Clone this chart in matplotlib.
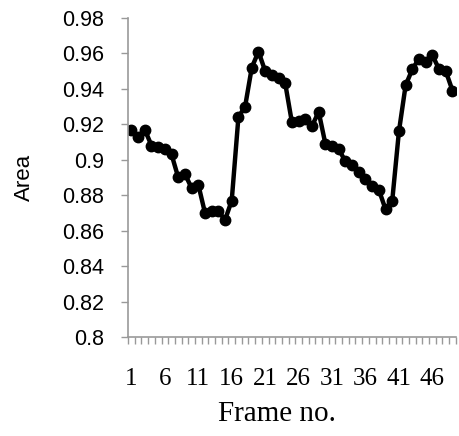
import matplotlib
matplotlib.use("Agg")
import matplotlib.pyplot as plt
import numpy as np

frames = list(range(1, 50))
area = [0.917, 0.913, 0.917, 0.908, 0.907, 0.906, 0.903, 0.890, 0.892, 0.884,
        0.886, 0.870, 0.871, 0.871, 0.866, 0.877, 0.924, 0.930, 0.952, 0.961,
        0.950, 0.948, 0.946, 0.943, 0.921, 0.922, 0.923, 0.919, 0.927, 0.909,
        0.908, 0.906, 0.899, 0.897, 0.893, 0.889, 0.885, 0.883, 0.872, 0.877,
        0.916, 0.942, 0.951, 0.957, 0.955, 0.959, 0.951, 0.950, 0.939]
xtick_labels = [1, 6, 11, 16, 21, 26, 31, 36, 41, 46]
yticks = [0.8, 0.82, 0.84, 0.86, 0.88, 0.9, 0.92, 0.94, 0.96, 0.98]
ytick_labels = ['0.8', '0.82', '0.84', '0.86', '0.88', '0.9', '0.92', '0.94', '0.96', '0.98']

fig = plt.figure(figsize=(4.59, 4.36), dpi=100)
ax = fig.add_axes([0.279, 0.227, 0.714, 0.732])

ax.plot(frames, area, color='black', linewidth=3.2, marker='o', markersize=7.5)

ax.set_xlim(0.5, len(frames) + 0.5)
ax.set_ylim(0.8, 0.98)

# labels on every 5th frame, tick marks between every category
ax.set_xticks(xtick_labels)
ax.set_xticklabels([str(v) for v in xtick_labels], fontfamily='Liberation Serif', fontsize=18)
ax.set_xticks(np.arange(0.5, len(frames) + 1, 1), minor=True)
ax.tick_params(axis='x', which='major', length=0, pad=22)
ax.tick_params(axis='x', which='minor', length=5, color='#999999', width=1)

ax.set_yticks(yticks)
ax.set_yticklabels(ytick_labels, fontfamily='Liberation Sans', fontsize=15.5)
ax.tick_params(axis='y', length=5, color='#999999', width=1, pad=12)

for s in ['top', 'right']:
    ax.spines[s].set_visible(False)
for s in ['left', 'bottom']:
    ax.spines[s].set_color('#999999')
    ax.spines[s].set_linewidth(1.2)

ax.set_ylabel('Area', fontfamily='Liberation Sans', fontsize=16)
ax.yaxis.set_label_coords(-0.285, 0.5)
ax.set_xlabel('Frame no.', fontfamily='Liberation Serif', fontsize=21)
ax.xaxis.set_label_coords(0.454, -0.2)

fig.savefig('out.png', dpi=100)
